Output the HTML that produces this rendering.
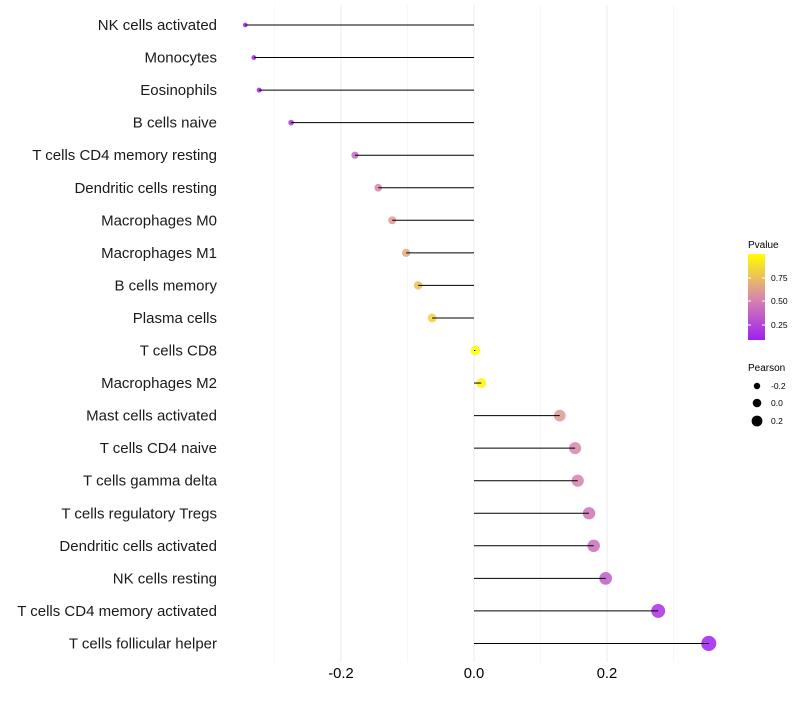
<!DOCTYPE html>
<html><head><meta charset="utf-8"><style>
body{margin:0;background:#fff;font-family:"Liberation Sans",sans-serif}
</style></head><body>
<svg id="chart" width="800" height="700" xmlns="http://www.w3.org/2000/svg" font-family="Liberation Sans, sans-serif">
<defs><linearGradient id="grad" x1="0" y1="1" x2="0" y2="0">
<stop offset="0" stop-color="#a020f0"/><stop offset="0.5" stop-color="#d98aa8"/><stop offset="1" stop-color="#ffff00"/>
</linearGradient></defs>
<g id="grid"></g><g id="points"></g><g id="marks"></g><g id="labels"></g>
<g>
<text x="748" y="248" font-size="10">Pvalue</text>
<rect x="748" y="254" width="17" height="86" fill="url(#grad)"/>
<line x1="748" x2="751" y1="278" y2="278" stroke="#fff"/><line x1="762" x2="765" y1="278" y2="278" stroke="#fff"/>
<line x1="748" x2="751" y1="301" y2="301" stroke="#fff"/><line x1="762" x2="765" y1="301" y2="301" stroke="#fff"/>
<line x1="748" x2="751" y1="325" y2="325" stroke="#fff"/><line x1="762" x2="765" y1="325" y2="325" stroke="#fff"/>
<text x="771" y="281" font-size="8.5">0.75</text>
<text x="771" y="304" font-size="8.5">0.50</text>
<text x="771" y="328" font-size="8.5">0.25</text>
</g>
<g>
<text x="748" y="371" font-size="10">Pearson</text>
<circle cx="757" cy="386" r="3.2"/><text x="771" y="389" font-size="8.5">-0.2</text>
<circle cx="757" cy="403" r="4.3"/><text x="771" y="406" font-size="8.5">0.0</text>
<circle cx="757" cy="421" r="5.4"/><text x="771" y="424" font-size="8.5">0.2</text>
</g>
</svg>
<script>
const categories=["NK cells activated","Monocytes","Eosinophils","B cells naive","T cells CD4 memory resting","Dendritic cells resting","Macrophages M0","Macrophages M1","B cells memory","Plasma cells","T cells CD8","Macrophages M2","Mast cells activated","T cells CD4 naive","T cells gamma delta","T cells regulatory  Tregs ","Dendritic cells activated","NK cells resting","T cells CD4 memory activated","T cells follicular helper"];
const pearson=[-0.344,-0.331,-0.323,-0.275,-0.179,-0.144,-0.123,-0.102,-0.084,-0.063,0.002,0.011,0.129,0.152,0.156,0.173,0.180,0.198,0.277,0.353];
const pvalue=[0.06,0.07,0.08,0.18,0.4,0.52,0.6,0.66,0.75,0.82,1.0,0.97,0.6,0.52,0.5,0.44,0.42,0.35,0.16,0.06];
const xTicks=[-0.2,0,0.2];
const xTickLabels=["-0.2","0.0","0.2"];
const minorGrid=[-0.3,-0.1,0.1,0.3];
const ns="http://www.w3.org/2000/svg";
const X=v=>474+v*665;
const Y=i=>25+i*32.55;
const R=v=>2.3+(v+0.35)/0.7*5.2;
function lerp(a,b,t){return a.map((x,k)=>Math.round(x+(b[k]-x)*t));}
function col(p){const t=Math.max(0,Math.min(1,(p-0.09)/0.91));const a=[160,32,240],m=[217,138,168],b=[255,255,0];
const c=t<0.5?lerp(a,m,t*2):lerp(m,b,(t-0.5)*2);return `rgb(${c})`;}
function mk(tag,attrs,parent){const e=document.createElementNS(ns,tag);for(const k in attrs)e.setAttribute(k,attrs[k]);document.getElementById(parent).appendChild(e);return e;}
minorGrid.forEach(v=>{const l=mk('line',{x1:X(v),x2:X(v),y1:5,y2:662,stroke:'#f2f2f2','stroke-width':0.6},'grid');

});
xTicks.forEach((v,i)=>{const l=mk('line',{x1:X(v),x2:X(v),y1:5,y2:662,stroke:'#ebebeb','stroke-width':1},'grid');


const t=mk('text',{x:X(v),y:678,'font-size':14.8,'text-anchor':'middle',fill:'#000'},'labels');t.textContent=xTickLabels[i];

});
categories.forEach((c,i)=>{const y=Y(i);
const d=mk('circle',{cx:X(pearson[i]),cy:y,r:R(pearson[i]),fill:col(pvalue[i]),'fill-opacity':0.85},'points');


const l=mk('line',{x1:X(0),x2:X(pearson[i]),y1:y,y2:y,stroke:'#000','stroke-width':1},'marks');


const t=mk('text',{x:217,y:y+5,'font-size':15,'text-anchor':'end',fill:'#1a1a1a'},'labels');t.textContent=c;

});
</script>
</body></html>
